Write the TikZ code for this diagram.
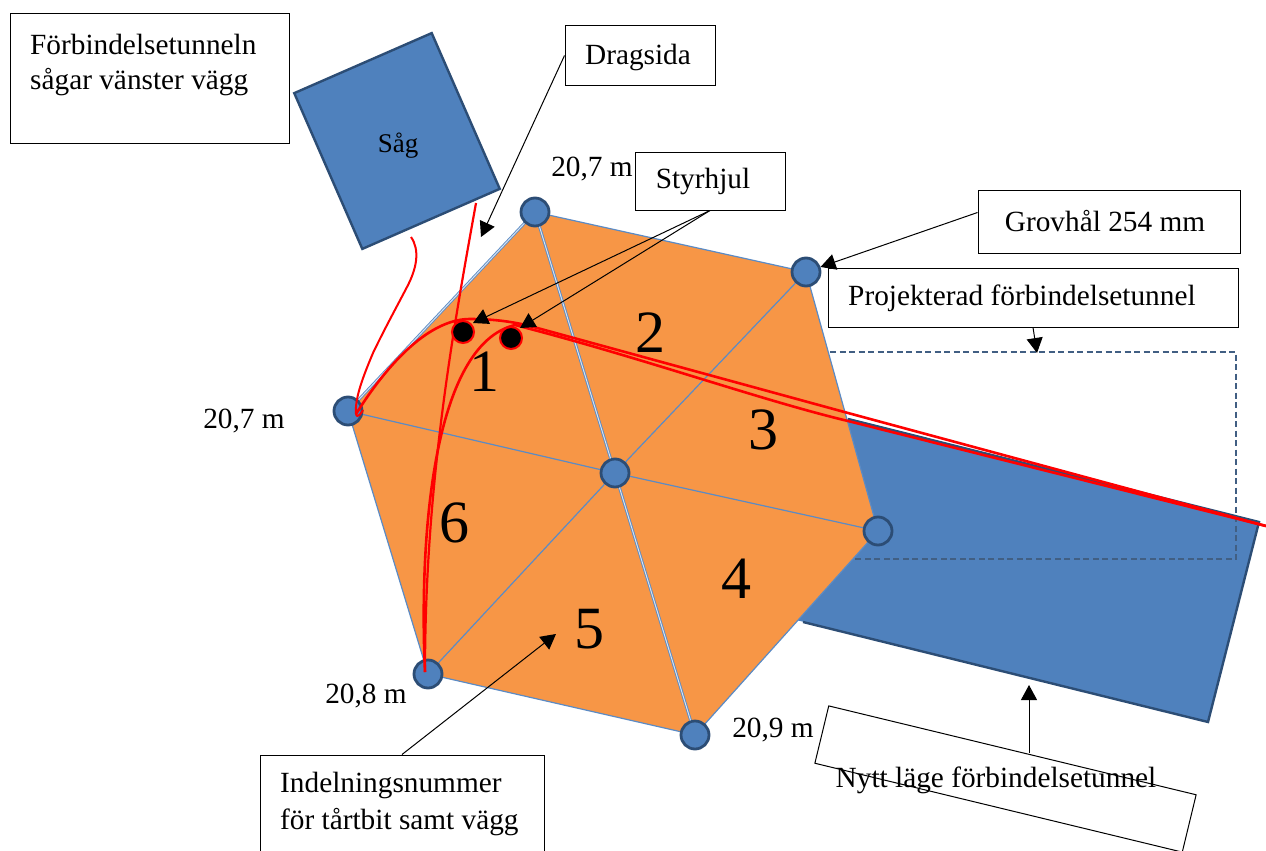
\documentclass[tikz,border=0pt]{standalone}
\usepackage{fontspec}
\setmainfont{Liberation Serif}
\usetikzlibrary{arrows.meta}
\definecolor{orangefill}{HTML}{F79646}
\definecolor{bluefill}{HTML}{4F81BD}
\definecolor{blueedge}{HTML}{2C4D75}
\definecolor{spokeblue}{HTML}{5B8BC5}
\tikzset{
 x=1pt,y=-1pt,
 tbox/.style={draw=black,line width=1pt,fill=white,inner sep=0pt},
 vertexdot/.style={circle,draw=blueedge,line width=2.8pt,fill=bluefill,minimum size=28pt,inner sep=0pt},
 spoke/.style={spokeblue,line width=1.2pt},
 dspoke/.style={spokeblue,double=white!75!spokeblue,double distance=1pt,line width=0.9pt},
 callout/.style={black,line width=1pt,-{Triangle[length=15pt,width=16pt]}},
 redthick/.style={red,line width=2.6pt},
 reddot/.style={circle,draw=red,line width=2pt,fill=black,minimum size=22pt,inner sep=0pt},
 plain/.style={inner sep=0pt,font=\fontsize{29.3}{34}\selectfont},
 bigno/.style={inner sep=0pt,font=\fontsize{60}{60}\selectfont},
}
\begin{document}
\begin{tikzpicture}
\useasboundingbox (0,0) rectangle (1266,851);
\clip (0,0) rectangle (1266,851);
% tunnel and saw
\fill[bluefill] (848,418) -- (1259,522) -- (1208,722) -- (780,616) -- cycle;
\draw[blueedge,line width=2.4pt] (848,419) -- (1259,522) -- (1208,722) -- (803,622);
\draw[blueedge!90,line width=1.3pt,dash pattern=on 6pt off 3.5pt] (830,352) -- (1236,352) -- (1236,559) -- (830,559);
\node[draw=blueedge,line width=2.4pt,fill=bluefill,minimum width=150pt,minimum height=170pt,rotate=23.6,inner sep=0pt] (saw) at (397,141) {};
\node[inner sep=0pt,font=\fontsize{27}{30}\selectfont] (sawtext) at (398,146) {Såg};
% hexagon
\coordinate (Ht) at (535,212);
\coordinate (Hr) at (806,272);
\coordinate (Hs) at (878,531);
\coordinate (Hb) at (695,735);
\coordinate (Hl) at (428,674);
\coordinate (Hw) at (348,411);
\fill[orangefill] (Ht) -- (Hr) -- (Hs) -- (Hb) -- (Hl) -- (Hw) -- cycle;
\draw[spoke] (Hs) -- (Hb) -- (Hl) -- (Hw);
\draw[spoke] (Ht) -- (Hr) -- (Hs);
\draw[dspoke] (Hw) -- (Ht);
\node[vertexdot] (vt) at (Ht) {};
\node[vertexdot] (vr) at (Hr) {};
\node[vertexdot] (vs) at (Hs) {};
\node[vertexdot] (vb) at (Hb) {};
\node[vertexdot] (vl) at (Hl) {};
\node[vertexdot] (vw) at (Hw) {};
\node[vertexdot] (vc) at (615,473) {};
\draw[dspoke] (vt) -- (vc);
\draw[dspoke] (vc) -- (vb);
\draw[spoke] (vr) -- (vc);
\draw[spoke] (vc) -- (vl);
\draw[spoke] (vw) -- (vc);
\draw[spoke] (vc) -- (vs);
% boxes
\node[tbox,minimum width=279pt,minimum height=129pt] (saws) at (149.5,78.5) {};
\node[plain,anchor=west] (sawsa) at (30,44) {Förbindelsetunneln};
\node[plain,anchor=west] (sawsb) at (30,82) {sågar vänster vägg};
\node[tbox,minimum width=150pt,minimum height=59pt] (drag) at (640,55.5) {};
\node[plain] (dragt) at (638,57) {Dragsida};
\node[tbox,minimum width=150pt,minimum height=58pt] (styr) at (710,181) {};
\node[plain] (styrt) at (703,181) {Styrhjul};
\node[tbox,minimum width=262pt,minimum height=63pt] (grov) at (1109,221.5) {};
\node[plain] (grovt) at (1105,221) {Grovhål 254 mm};
\node[tbox,minimum width=410pt,minimum height=59pt] (proj) at (1033,297.5) {};
\node[plain,anchor=west] (projt) at (848,298) {Projekterad förbindelsetunnel};
\node[tbox,minimum width=284pt,minimum height=120pt] (indel) at (402,815) {};
\node[plain,anchor=west] (indela) at (280,785) {Indelningsnummer};
\node[plain,anchor=west] (indelb) at (280,822) {för tårtbit samt vägg};
\node[tbox,minimum width=378pt,minimum height=59pt,rotate=-13.6] (nytt) at (1005.5,779) {};
\node[plain] (nyttt) at (996,780) {Nytt läge förbindelsetunnel};
% labels
\node[plain] (la) at (592,169) {20,7 m};
\node[plain] (lb) at (244,421) {20,7 m};
\node[plain] (lc) at (366,696) {20,8 m};
\node[plain] (ld) at (773,730) {20,9 m};
\node[bigno] (n1) at (484,372) {1};
\node[bigno] (n2) at (650,333) {2};
\node[bigno] (n3) at (763,430) {3};
\node[bigno] (n4) at (736,579) {4};
\node[bigno] (n5) at (589,629) {5};
\node[bigno] (n6) at (454,523) {6};
% red paths
\draw[red,line width=2pt] (411,237) .. controls (420,250) and (417,268) .. (407,287) .. controls (395,310) and (384,330) .. (373,353) .. controls (365,372) and (357,392) .. (356,407) .. controls (355,418) and (358,419) .. (363,410);
\draw[redthick,line join=round] (356,414) .. controls (395,352) and (435,319) .. (470,319) .. controls (490,319) and (510,321) .. (530,326) -- (848,413) -- (1266,526);
\draw[redthick,line join=round] (425,672) .. controls (419,540) and (432,345) .. (515,325) .. controls (640,357) and (760,400) .. (848,421) -- (1266,526);
\draw[red,line width=2.2pt] (476,203) .. controls (455,320) and (425,480) .. (425,672);
\node[reddot] (dot1) at (463,332) {};
\node[reddot] (dot2) at (511,338) {};
% callouts
\coordinate (tdrag) at (481,237);
\coordinate (tdot1) at (473,323);
\coordinate (tdot2) at (520,328);
\coordinate (tproj) at (1037,353);
\coordinate (ttun) at (1029,685);
\coordinate (tnum) at (556,634);
\coordinate (snytt) at (1029,753);
\draw[callout] (drag.west) -- (tdrag);
\draw[callout] (styr.south) -- (tdot1);
\draw[callout] (styr.south) -- (tdot2);
\draw[callout] ([yshift=9pt]grov.west) -- (vr);
\draw[callout] (proj.south) -- (tproj);
\draw[callout] (snytt) -- (ttun);
\draw[callout] (indel.north) -- (tnum);
\end{tikzpicture}
\end{document}
